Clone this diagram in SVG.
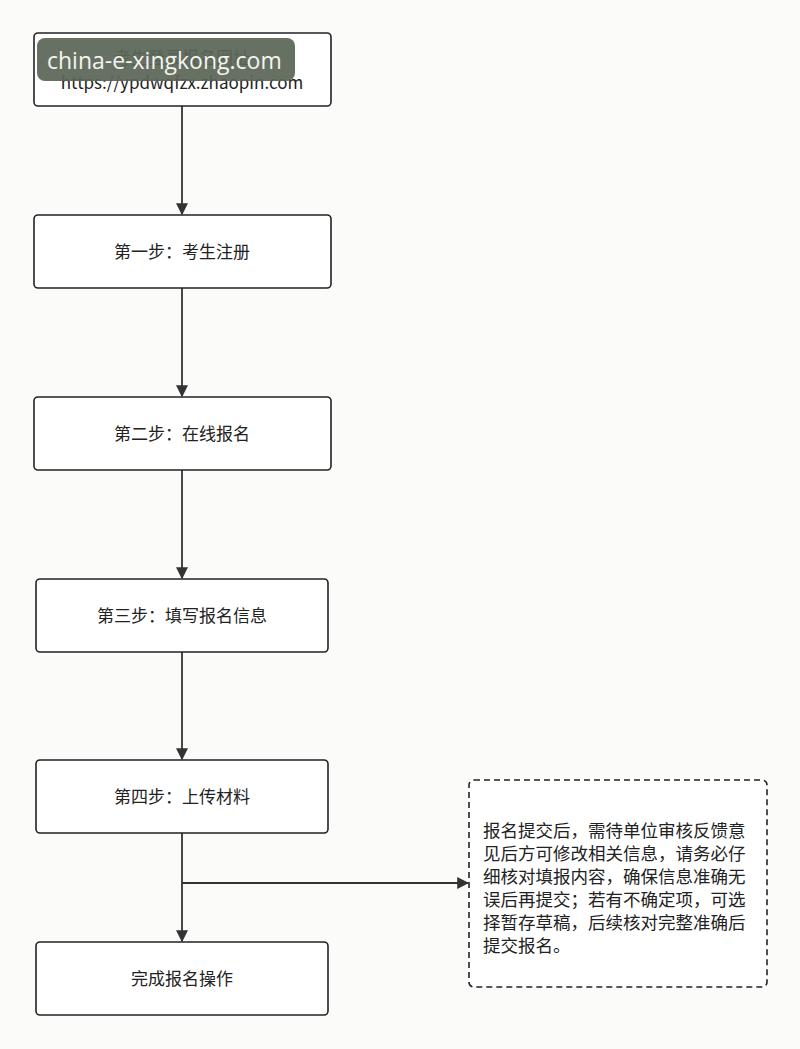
<svg xmlns="http://www.w3.org/2000/svg" width="800" height="1049" viewBox="0 0 800 1049">
<defs>
<style>
.n{fill:#fff;stroke:#222;stroke-width:1.6}
.t{font-family:"Noto Sans CJK SC",sans-serif;font-size:17px;fill:#222;text-anchor:middle}
.p{font-family:"Noto Sans CJK SC",sans-serif;font-size:17.5px;fill:#222}
.c{stroke:#333;stroke-width:1.8;fill:none;marker-end:url(#a)}
</style>
<marker id="a" viewBox="0 0 10 10" refX="9" refY="5" markerWidth="12" markerHeight="12" markerUnits="userSpaceOnUse" orient="auto"><path d="M0,0L10,5L0,10z" fill="#333"/></marker>
</defs>
<rect width="800" height="1049" fill="#fbfcf9"/>
<g id="connectors">
<path class="c" d="M182,106V214"/>
<path class="c" d="M182,288V396"/>
<path class="c" d="M182,470V578"/>
<path class="c" d="M182,652V759"/>
<path class="c" d="M182,833V941"/>
<path class="c" d="M182,883H468"/>
</g>
<g id="n0"><rect class="n" x="34" y="33" width="297" height="73" rx="4"/>
<text class="t" x="182" y="64">考生登录报名网址</text>
<text class="t" x="182" y="89" font-family="'Open Sans',sans-serif">https://ypdwqfzx.zhaopin.com</text></g>
<g id="n1"><rect class="n" x="34" y="215" width="297" height="73" rx="4"/><text class="t" x="182" y="258">第一步：考生注册</text></g>
<g id="n2"><rect class="n" x="34" y="397" width="297" height="73" rx="4"/><text class="t" x="182" y="440">第二步：在线报名</text></g>
<g id="n3"><rect class="n" x="36" y="579" width="292" height="73" rx="4"/><text class="t" x="182" y="622">第三步：填写报名信息</text></g>
<g id="n4"><rect class="n" x="36" y="760" width="292" height="73" rx="4"/><text class="t" x="182" y="803">第四步：上传材料</text></g>
<g id="n5"><rect class="n" x="36" y="942" width="292" height="73" rx="4"/><text class="t" x="182" y="985">完成报名操作</text></g>
<g id="n6"><rect x="469" y="780" width="298" height="207" rx="5" fill="#fff" stroke="#222" stroke-width="1.6" stroke-dasharray="6,4"/>
<text class="p"><tspan x="483" y="837">报名提交后，需待单位审核反馈意</tspan><tspan x="483" y="860">见后方可修改相关信息，请务必仔</tspan><tspan x="483" y="883">细核对填报内容，确保信息准确无</tspan><tspan x="483" y="906">误后再提交；若有不确定项，可选</tspan><tspan x="483" y="929">择暂存草稿，后续核对完整准确后</tspan><tspan x="483" y="952">提交报名。</tspan></text></g>
<g id="watermark"><rect x="37" y="38" width="258" height="43" rx="8" fill="#5a6658" opacity="0.93"/>
<text x="47" y="69" font-family="'Open Sans',sans-serif" font-size="23" fill="#f4f4f0">china-e-xingkong.com</text></g>
</svg>
